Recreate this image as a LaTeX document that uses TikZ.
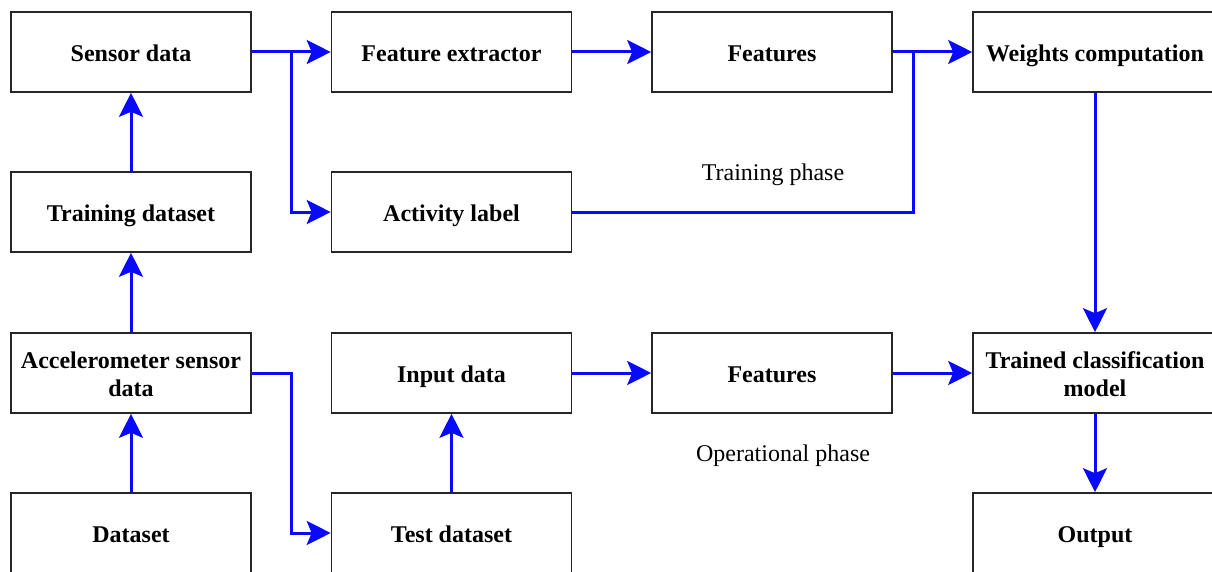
\documentclass[tikz,border=0pt]{standalone}
\usepackage{fontspec}
\setmainfont{Liberation Serif}
\usetikzlibrary{arrows.meta}
\begin{document}
\begin{tikzpicture}[x=1pt,y=-1pt,
  box/.style={draw=black!85,line width=1.6pt,minimum width=240pt,minimum height=80pt,inner sep=0pt,text height=23pt,text depth=4pt,align=center,font=\fontsize{24}{28.4}\selectfont\bfseries},
  twoline/.style={text height=51.4pt},
  wide/.style={minimum width=244pt},
  lab/.style={font=\fontsize{24}{28}\selectfont},
  conn/.style={draw={rgb,255:red,10;green,10;blue,250},line width=3pt,-{Stealth[length=24pt,width=24pt,inset=5pt]}},
  plain/.style={draw={rgb,255:red,10;green,10;blue,250},line width=3pt}]
\useasboundingbox (0,0) rectangle (1212,572);
\clip (0,0) rectangle (1212,572);
\node[box] (sensor) at (131,52) {Sensor data};
\node[box] (train) at (131,212) {Training dataset};
\node[box,twoline] (accel) at (131,373) {Accelerometer sensor\\data};
\node[box] (dataset) at (131,533) {Dataset};
\node[box] (fext) at (451.5,52) {Feature extractor};
\node[box] (act) at (451.5,212) {Activity label};
\node[box] (input) at (451.5,373) {Input data};
\node[box] (test) at (451.5,533) {Test dataset};
\node[box] (feat1) at (772,52) {Features};
\node[box] (feat2) at (772,373) {Features};
\node[box,wide] (weights) at (1095,52) {Weights computation};
\node[box,wide,twoline] (trained) at (1095,373) {Trained classification\\model};
\node[box,wide] (output) at (1095,533) {Output};
\node[lab] (tp) at (773,175) {Training phase};
\node[lab] (op) at (783,456) {Operational phase};
\coordinate (b1) at (291,52);
\coordinate (b2) at (913,52);
\coordinate (b3) at (291,373);
\draw[conn] (dataset.north) -- (accel.south);
\draw[conn] (accel.north) -- (train.south);
\draw[conn] (train.north) -- (sensor.south);
\draw[conn] (sensor.east) -- (fext.west);
\draw[conn] (b1) |- (act.west);
\draw[conn] (fext.east) -- (feat1.west);
\draw[conn] (feat1.east) -- (weights.west);
\draw[plain] (act.east) -| (b2);
\draw[conn] (accel.east) -| (b3) |- (test.west);
\draw[conn] (test.north) -- (input.south);
\draw[conn] (input.east) -- (feat2.west);
\draw[conn] (feat2.east) -- (trained.west);
\draw[conn] (weights.south) -- (trained.north);
\draw[conn] (trained.south) -- (output.north);
\end{tikzpicture}
\end{document}
